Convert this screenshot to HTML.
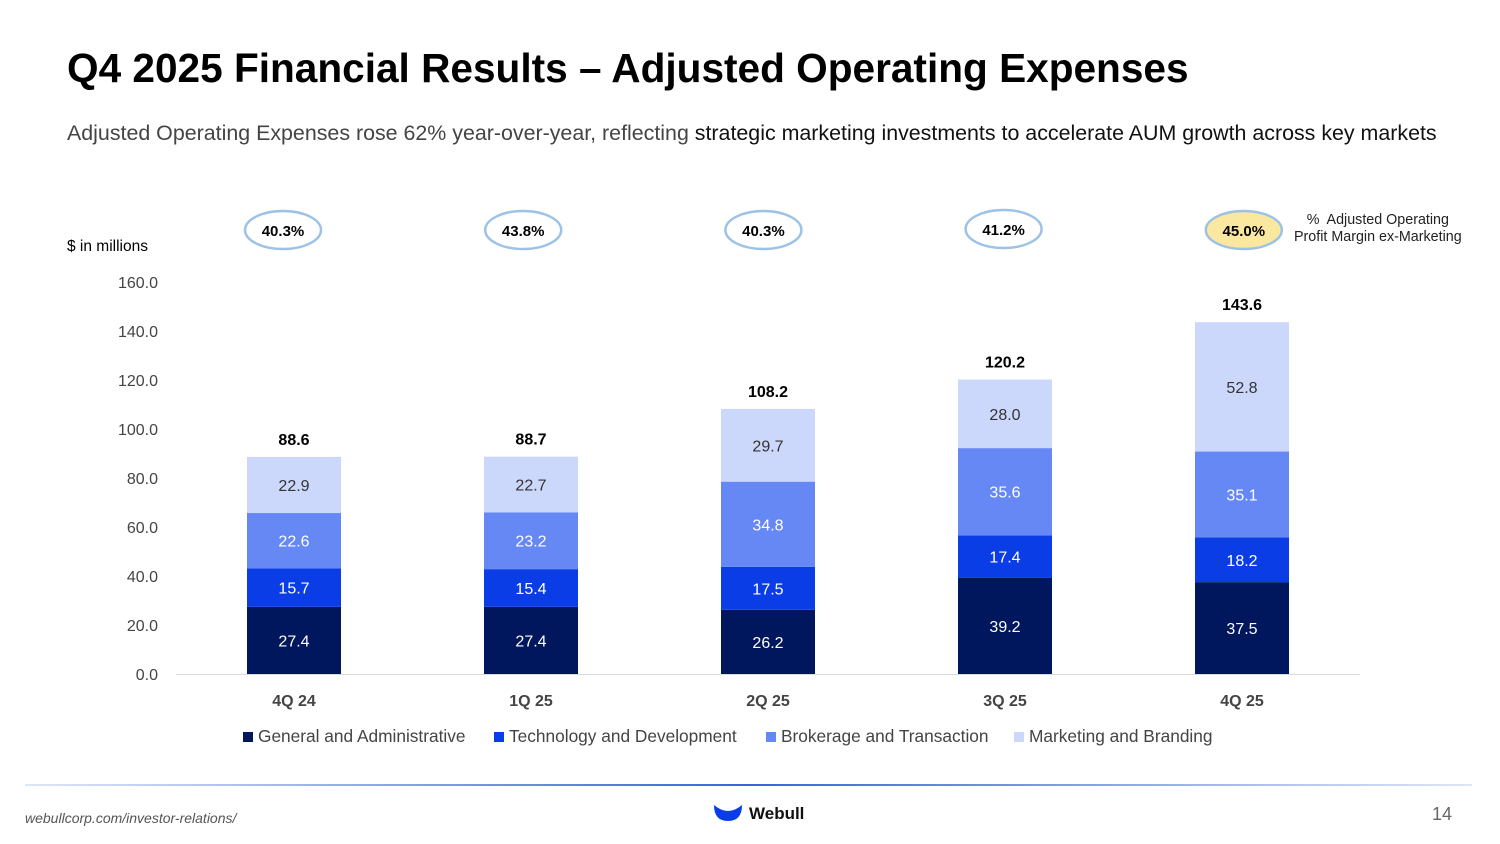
<!DOCTYPE html>
<html><head><meta charset="utf-8"><style>
body{margin:0;width:1500px;height:844px;background:#fff;font-family:"Liberation Sans","DejaVu Sans",sans-serif;overflow:hidden;position:relative}
.t{position:absolute;white-space:nowrap}
</style></head><body>
<div class="t" style="left:67px;top:45px;font-size:40.6px;font-weight:bold;color:#000">Q4 2025 Financial Results – Adjusted Operating Expenses</div>
<div class="t" style="left:67px;top:121px;font-size:21.4px;color:#444">Adjusted Operating Expenses rose 62% year-over-year, reflecting <span style="color:#111">strategic marketing investments to accelerate AUM growth across key markets</span></div>
<div class="t" style="left:67px;top:238px;font-size:15.5px;color:#000">$ in millions</div>
<div class="t" style="left:1294px;top:212px;font-size:14.3px;color:#222;text-align:center;line-height:17px">%&nbsp; Adjusted Operating<br>Profit Margin ex-Marketing</div>
<svg id="chart" width="1500" height="844" style="position:absolute;left:0;top:0"></svg>
<div style="position:absolute;left:25px;top:784px;width:1447px;height:2px;background:linear-gradient(90deg,#dfe6f5,#3a64d8 50%,#dfe6f5)"></div>
<div class="t" style="left:25px;top:810px;font-size:14px;font-style:italic;color:#555">webullcorp.com/investor-relations/</div>
<svg style="position:absolute;left:713px;top:803px" width="30" height="20"><path d="M1 2 Q15 14 29 2 Q29 18 15 18 Q1 18 1 2Z" fill="#0a3de6"/></svg>
<div class="t" style="left:749px;top:804px;font-size:17px;font-weight:bold;color:#111">Webull</div>
<div class="t" style="left:1432px;top:804px;font-size:18px;color:#666">14</div>
<script>
const categories=["4Q 24","1Q 25","2Q 25","3Q 25","4Q 25"];
const ga=[27.4,27.4,26.2,39.2,37.5];
const tech=[15.7,15.4,17.5,17.4,18.2];
const brok=[22.6,23.2,34.8,35.6,35.1];
const mkt=[22.9,22.7,29.7,28.0,52.8];
const totals=[88.6,88.7,108.2,120.2,143.6];
const margins=["40.3%","43.8%","40.3%","41.2%","45.0%"];
const yTicks=[0,20,40,60,80,100,120,140,160];
const seriesNames=["General and Administrative","Technology and Development","Brokerage and Transaction","Marketing and Branding"];
const colors=["#00175e","#0a3de6","#6688f5","#ccd8fb"];
const textCols=["#fff","#fff","#fff","#333"];
const svg=document.getElementById('chart');const NS="http://www.w3.org/2000/svg";
function y(v){return 674-v*392/160;}
function x(i){return 294+i*237;}
function bx(i){return 283+i*240.2;}
function mk(t,a,txt){const e=document.createElementNS(NS,t);for(const k in a)e.setAttribute(k,a[k]);if(txt!==undefined)e.textContent=txt;svg.appendChild(e);return e;}
yTicks.forEach(v=>{const e=mk('text',{x:158,y:y(v)+6,'text-anchor':'end','font-size':16,fill:'#444'},v.toFixed(1));

});
const ax=mk('line',{x1:176,x2:1360,y1:674.5,y2:674.5,stroke:'#d9d9d9','stroke-width':1});


const series=[ga,tech,brok,mkt];
categories.forEach((c,i)=>{let base=0;
series.forEach((s,k)=>{const v=s[i];const r=mk('rect',{x:x(i)-47,width:94,y:y(base+v),height:y(base)-y(base+v),fill:colors[k]});


const t=mk('text',{x:x(i),y:y(base+v/2)+6,'text-anchor':'middle','font-size':16,fill:textCols[k]},v.toFixed(1));


base+=v;});
const tt=mk('text',{x:x(i),y:y(totals[i])-12,'text-anchor':'middle','font-size':16,'font-weight':'bold',fill:'#000'},totals[i].toFixed(1));


const xl=mk('text',{x:x(i),y:706,'text-anchor':'middle','font-size':16,'font-weight':'bold',fill:'#444'},c);


const cy=i==3?229:230;
const el=mk('ellipse',{cx:bx(i),cy:cy,rx:38,ry:19,fill:i==4?'#fbe8a0':'#fff',stroke:'#9cc3e6','stroke-width':2.5});


const mt=mk('text',{x:bx(i),y:cy+6,'text-anchor':'middle','font-size':15,'font-weight':'bold',fill:'#000'},margins[i]);


});
const lx=[243,494,766,1014];
seriesNames.forEach((n,k)=>{const r=mk('rect',{x:lx[k],y:732,width:10,height:10,fill:colors[k]});


const t=mk('text',{x:lx[k]+15,y:742,'font-size':17.3,fill:'#444'},n);

});
</script>
</body></html>
